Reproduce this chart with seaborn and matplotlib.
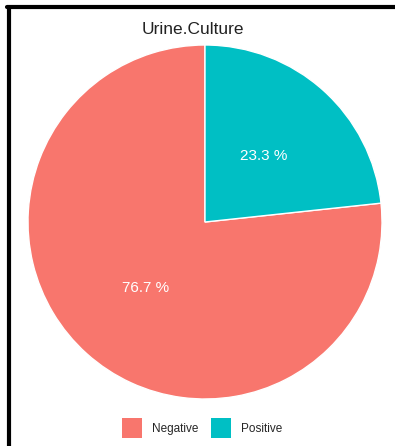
import matplotlib
matplotlib.use("Agg")
import matplotlib.pyplot as plt
import seaborn as sns
from matplotlib.patches import Patch
from matplotlib.lines import Line2D

categories = ["Negative", "Positive"]
percent = [76.7, 23.3]
colors = ["#F8766D", "#00BFC4"]

sns.set_theme(style="white")
plt.rcParams["font.family"] = ["Liberation Sans", "DejaVu Sans"]

fig = plt.figure(figsize=(3.95, 4.46), dpi=100)
ax = fig.add_axes([28 / 395, 47 / 446, 354 / 395, 354 / 446])

wedges, texts, autotexts = ax.pie(
    percent, colors=sns.color_palette(colors), startangle=90, counterclock=True,
    autopct=lambda p: f"{p:.1f} %", pctdistance=0.5,
    wedgeprops=dict(edgecolor="white", linewidth=1),
    textprops=dict(color="white", fontsize=11),
)
ax.set_xlim(-1, 1)
ax.set_ylim(-1, 1)
ax.set_aspect("equal")

fig.text(193 / 395, 1 - 30 / 446, "Urine.Culture", ha="center", va="center", fontsize=12.5, color="#222222")

handles = [Patch(facecolor=c, edgecolor="none", label=l) for c, l in zip(colors, categories)]
fig.legend(handles=handles, loc="center", bbox_to_anchor=(202 / 395, 1 - 428 / 446), ncol=2,
           frameon=False, fontsize=8.5, handlelength=1.7, handleheight=2.3, columnspacing=1.1,
           handletextpad=0.8)

# screenshot frame lines (top and left)
fig.add_artist(Line2D([7 / 395, 1], [1 - 7 / 446, 1 - 7 / 446], color="black", linewidth=3, transform=fig.transFigure))
fig.add_artist(Line2D([9 / 395, 9 / 395], [0, 1 - 7 / 446], color="black", linewidth=3, transform=fig.transFigure))

fig.savefig("out.png", dpi=100, facecolor="white")
